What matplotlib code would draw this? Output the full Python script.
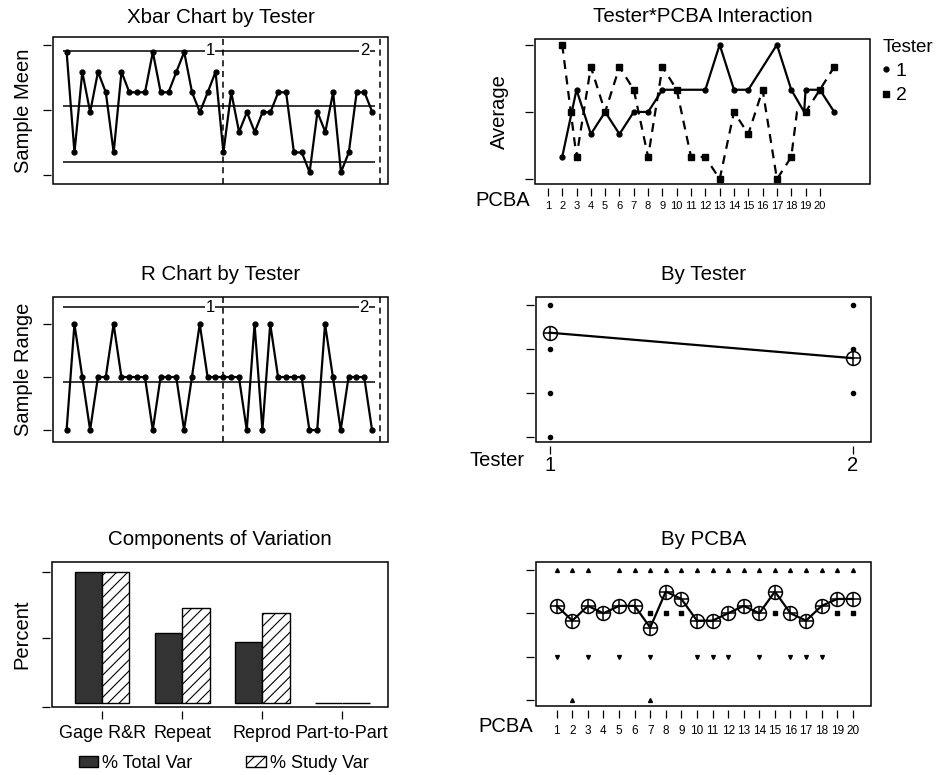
import numpy as np
import matplotlib.pyplot as plt
from matplotlib.patches import Rectangle, Patch
from matplotlib.lines import Line2D

plt.rcParams['font.family'] = ['Liberation Sans', 'DejaVu Sans']
plt.rcParams['hatch.linewidth'] = 0.8

# subgroup means / ranges (3 repeats), 20 PCBAs for each tester
xbar_t1 = [3.00, 1.33, 2.67, 2.00, 2.67, 2.33, 1.33, 2.67, 2.33, 2.33,
           2.33, 3.00, 2.33, 2.33, 2.67, 3.00, 2.33, 2.00, 2.33, 2.67]
xbar_t2 = [1.33, 2.33, 1.67, 2.00, 1.67, 2.00, 2.00, 2.33, 2.33, 1.33,
           1.33, 1.00, 2.00, 1.67, 2.33, 1.00, 1.33, 2.33, 2.33, 2.00]
r_t1 = [0, 2, 1, 0, 1, 1, 2, 1, 1, 1, 1, 0, 1, 1, 1, 0, 1, 2, 1, 1]
r_t2 = [1, 1, 1, 0, 2, 0, 2, 1, 1, 1, 1, 0, 0, 2, 1, 0, 1, 1, 1, 0]
A2, D4 = 1.023, 2.574

# interaction plot (as drawn)
int_t1_pos = [2, 3, 4, 5, 6, 7, 8, 9, 10, 12, 13, 14, 15, 17, 18, 18.9, 19, 20, 21]
int_t1_avg = [1.33, 2.33, 1.67, 2.00, 1.67, 2.00, 2.00, 2.33, 2.33, 2.33,
              3.00, 2.33, 2.33, 3.00, 2.33, 2.00, 2.33, 2.33, 2.00]
int_t2_pos = [2, 2.6, 3, 4, 5, 6, 7, 8, 9, 10, 11, 12, 13, 14, 15, 16, 17, 18, 18.4, 19, 20, 21]
int_t2_avg = [3.00, 2.00, 1.33, 2.67, 2.00, 2.67, 2.33, 1.33, 2.67, 2.33, 1.33,
              1.33, 1.00, 2.00, 1.67, 2.33, 1.00, 1.33, 2.00, 2.00, 2.33, 2.67]
pcba_labels = [str(i) for i in range(1, 21)]

# by tester
testers = [1, 2]
tester_mean = [2.37, 1.79]
tester_vals = {1: [3, 2, 1, 0], 2: [3, 2, 1]}

# by PCBA
pcba_mean = [2.17, 1.83, 2.17, 2.00, 2.17, 2.17, 1.67, 2.50, 2.33, 1.83,
             1.83, 2.00, 2.17, 2.00, 2.50, 2.00, 1.83, 2.17, 2.33, 2.33]
pcba_dot_id = [1, 1, 2, 2, 3, 3, 5, 5, 6, 7, 7, 7, 7, 8, 8, 9, 9, 10, 10,
               11, 11, 12, 12, 13, 14, 14, 15, 15, 16, 16, 17, 17, 18, 18, 19, 19, 20, 20]
pcba_dot_val = [3, 1, 3, 0, 3, 1, 3, 1, 3, 3, 2, 1, 0, 3, 2, 3, 2, 3, 1,
                3, 1, 3, 1, 3, 3, 1, 3, 2, 3, 1, 3, 1, 3, 1, 3, 2, 3, 2]

# components of variation
components = ['Gage R&R', 'Repeat', 'Reprod', 'Part-to-Part']
total_var = [100, 53.2, 46.8, 0]
study_var = [100, 72.5, 68.8, 0]

W, H = 941, 775
fig = plt.figure(figsize=(W / 100, H / 100), dpi=100)


def panel(x0, y0, x1, y1, xgap=3, ygap=1.5):
    ax = fig.add_axes([x0 / W, 1 - y1 / H, (x1 - x0) / W, (y1 - y0) / H])
    for s in ax.spines.values():
        s.set_visible(False)
    ax.add_patch(Rectangle((0, 0), 1, 1, transform=ax.transAxes, fill=False,
                           lw=1.1, zorder=5, clip_on=False))
    ax.spines['left'].set_position(('outward', ygap))
    ax.spines['bottom'].set_position(('outward', xgap))
    ax.tick_params(direction='out', length=5.5, width=0.9)
    return ax


TFS, LFS = 14.8, 14.5

# ---- Xbar chart
ax = panel(53.3, 37, 388, 184.3)
xbar = np.array(xbar_t1 + xbar_t2)
rng = np.array(r_t1 + r_t2)
k = np.arange(1, len(xbar) + 1)
cl, rbar = xbar.mean(), rng.mean()
ax.hlines([cl + A2 * rbar, cl, cl - A2 * rbar], 0.5, 40.4, color='black', lw=1.1)
ax.plot(k, xbar, 'k-', lw=1.6, marker='o', ms=3.5)
for xv in (21, 41):
    ax.axvline(xv, color='black', ls=(0, (4, 3)), lw=1.1)
for xv, lab in ((19.3, '1'), (39.0, '2')):
    ax.text(xv, cl + A2 * rbar, lab, ha='center', va='center', fontsize=12,
            bbox=dict(fc='white', ec='none', pad=0.3))
ax.set_xlim(-0.7, 42.0)
ax.set_ylim(0.80, 3.25)
ax.set_xticks([])
ax.set_yticks([0.956, 2.03, 3.11])
ax.set_yticklabels([])
ax.set_title('Xbar Chart by Tester', fontsize=TFS, pad=10)
ax.set_ylabel('Sample Meen', fontsize=LFS)
ax.yaxis.set_label_coords(-0.061, 0.5)

# ---- R chart
ax = panel(53.3, 296.7, 387.7, 441.7)
ax.hlines([D4 * rbar, rbar], 0.5, 40.4, color='black', lw=1.1)
ax.plot(k, rng, 'k-', lw=1.6, marker='o', ms=3.5)
for xv in (21, 41):
    ax.axvline(xv, color='black', ls=(0, (4, 3)), lw=1.1)
for xv, lab in ((19.3, '1'), (39.0, '2')):
    ax.text(xv, D4 * rbar, lab, ha='center', va='center', fontsize=12,
            bbox=dict(fc='white', ec='none', pad=0.3))
ax.set_xlim(-0.7, 42.0)
ax.set_ylim(-0.22, 2.515)
ax.set_xticks([])
ax.set_yticks([0, 1, 2])
ax.set_yticklabels([])
ax.set_title('R Chart by Tester', fontsize=TFS, pad=12)
ax.set_ylabel('Sample Range', fontsize=LFS)
ax.yaxis.set_label_coords(-0.061, 0.5)

# ---- interaction
ax = panel(535, 39, 870, 184)
ax.plot(int_t1_pos, int_t1_avg, 'k-', lw=1.6, marker='o', ms=3.5,
        markevery=[i for i in range(len(int_t1_pos)) if i != 15])
ax.plot(int_t2_pos, int_t2_avg, 'k', ls=(0, (4, 3)), lw=1.6, marker='s', ms=4,
        markevery=[i for i in range(len(int_t2_pos)) if i != 18])
ax.set_xlim(0.1, 23.5)
ax.set_ylim(0.928, 3.085)
ax.set_xticks(range(1, 21))
ax.set_xticklabels(pcba_labels, fontsize=8)
ax.set_yticks([1, 2, 3])
ax.set_yticklabels([])
ax.set_title('Tester*PCBA Interaction', fontsize=TFS, pad=12)
ax.set_ylabel('Average', fontsize=LFS)
ax.yaxis.set_label_coords(-0.078, 0.5)
ax.text(-0.179, -0.117, 'PCBA', transform=ax.transAxes, ha='left', va='center',
        fontsize=LFS)
handles = [Line2D([], [], color='black', marker='o', ms=3.5, ls='none'),
           Line2D([], [], color='black', marker='s', ms=4, ls='none')]
ax.legend(handles, ['1', '2'], title='Tester', loc='upper left',
          bbox_to_anchor=(1.025, 1.03), frameon=False, fontsize=14,
          title_fontsize=13.5, handlelength=0.4, handletextpad=0.3,
          labelspacing=0.35, borderaxespad=0, borderpad=0.2, alignment='left')

# ---- by tester
ax = panel(535.7, 296.7, 870.7, 442)
for t in testers:
    ax.plot([t] * len(tester_vals[t]), tester_vals[t], 'ko', ms=3)
ax.plot(testers, tester_mean, 'k-', lw=1.6)
ax.plot(testers, tester_mean, 'o', ms=10, mfc='none', mec='black', mew=1.1)
ax.plot(testers, tester_mean, '+', ms=10, color='black', mew=1.1)
ax.set_xlim(0.954, 2.059)
ax.set_ylim(-0.12, 3.19)
ax.set_xticks(testers)
ax.set_xticklabels([str(t) for t in testers], fontsize=LFS)
ax.tick_params(axis='x', pad=1.5)
ax.set_yticks([0, 1, 2, 3])
ax.set_yticklabels([])
ax.set_title('By Tester', fontsize=TFS, pad=12)
ax.text(-0.197, -0.124, 'Tester', transform=ax.transAxes, ha='left', va='center',
        fontsize=LFS)

# ---- components of variation
ax = panel(52.3, 561.7, 388.3, 706.7)
pos = np.arange(1, len(components) + 1)
w = 0.34
ax.bar(pos - w / 2, total_var, w, color='#333333', edgecolor='black', lw=1)
ax.bar(pos + w / 2, study_var, w, color='white', edgecolor='black', lw=1,
       hatch='///')
ax.set_xlim(0.375, 4.575)
ax.set_ylim(-2.6, 107.6)
ax.set_xticks(pos)
ax.set_xticklabels(components, fontsize=13)
ax.tick_params(axis='x', pad=5)
ax.set_yticks([-2.6, 49.4, 100])
ax.set_yticklabels([])
ax.set_title('Components of Variation', fontsize=TFS, pad=12)
ax.set_ylabel('Percent', fontsize=LFS)
ax.yaxis.set_label_coords(-0.063, 0.5)
ax.legend([Patch(fc='#333333', ec='black'), Patch(fc='white', ec='black', hatch='///')],
          ['% Total Var', '% Study Var'], loc='center',
          bbox_to_anchor=(0.51, -0.39), ncol=2, frameon=False, fontsize=13,
          handlelength=1.1, handleheight=0.55, handletextpad=0.2, columnspacing=3.0)

# ---- by PCBA
ax = panel(535.7, 561.7, 870.7, 706)
lv_marker = {3: '^', 2: 's', 1: 'v', 0: '^'}
ids, vals = np.array(pcba_dot_id), np.array(pcba_dot_val)
for lv, m in lv_marker.items():
    sel = vals == lv
    ax.plot(ids[sel], vals[sel], ls='none', marker=m, ms=2.8, color='black')
p = np.arange(1, len(pcba_mean) + 1)
ax.plot(p, pcba_mean, 'k-', lw=1.6)
ax.plot(p, pcba_mean, 'o', ms=10, mfc='none', mec='black', mew=1.1)
ax.plot(p, pcba_mean, '+', ms=10, color='black', mew=1.1)
ax.set_xlim(-0.35, 21.15)
ax.set_ylim(-0.14, 3.19)
ax.set_xticks(p)
ax.set_xticklabels(pcba_labels, fontsize=8.5)
ax.tick_params(axis='x', pad=5)
ax.set_yticks([0, 1, 2, 3])
ax.set_yticklabels([])
ax.set_title('By PCBA', fontsize=TFS, pad=12)
ax.text(-0.17, -0.145, 'PCBA', transform=ax.transAxes, ha='left', va='center',
        fontsize=LFS)

fig.savefig('out.png', dpi=100)
